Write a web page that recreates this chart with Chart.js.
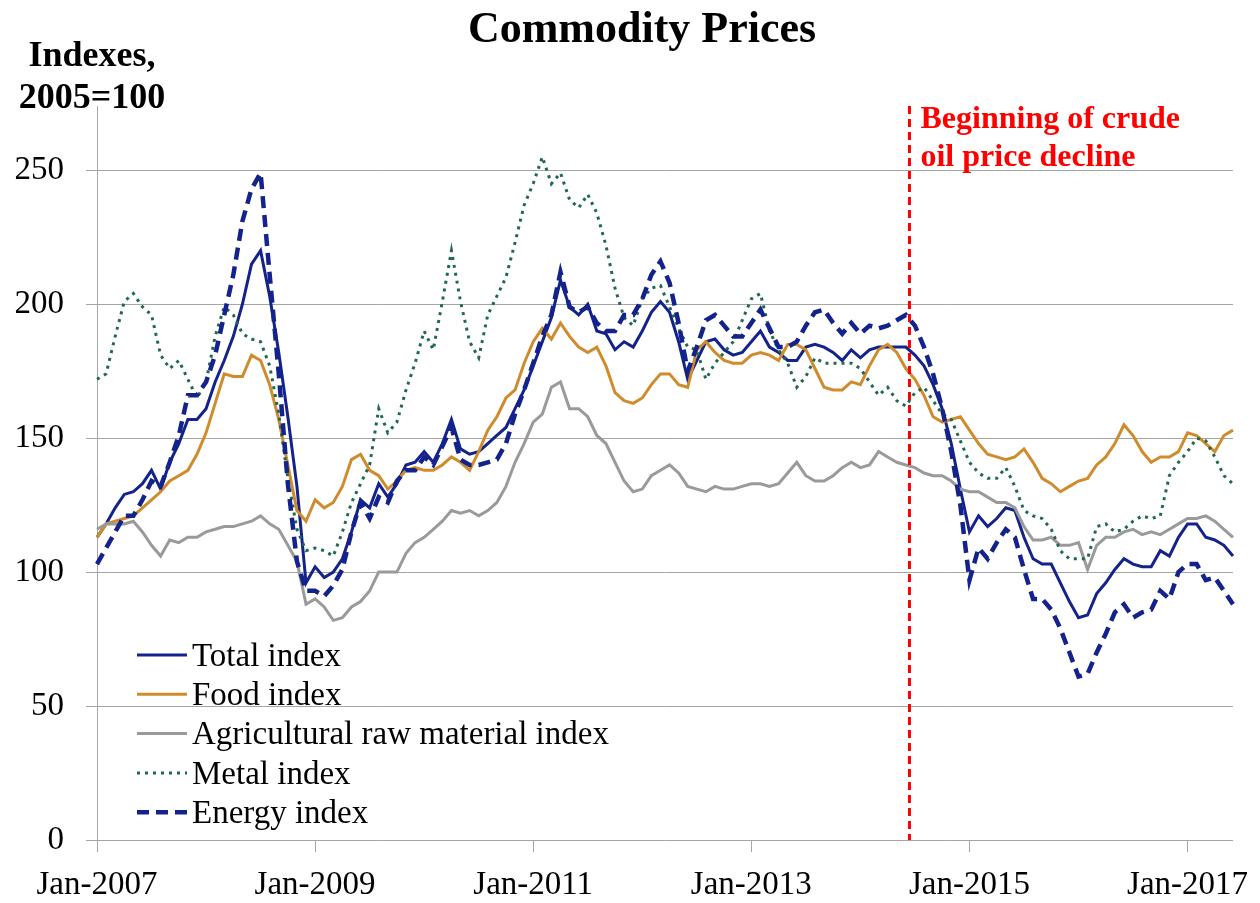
<!DOCTYPE html>
<html>
<head>
<meta charset="utf-8">
<title>Commodity Prices</title>
<script src="https://cdn.jsdelivr.net/npm/chart.js@4.4.1/dist/chart.umd.min.js"></script>
<style>
  html, body { margin: 0; padding: 0; background: #fff; }
  canvas { display: block; }
</style>
</head>
<body>
<canvas id="priceChart" width="1260" height="903"></canvas>
<script>
// Monthly index values, Jan-2007 .. Jun-2017 (2005 = 100)
const totalIndex = [113, 118, 124, 129, 130, 133, 138, 131, 141, 148, 157, 157, 161, 171, 179, 188, 200, 215, 220, 203,
  182, 158, 132, 96, 102, 98, 100, 105, 115, 127, 124, 133, 128, 133, 140, 141, 145, 141, 148, 157,
  146, 144, 145, 148, 151, 154, 161, 168, 177, 186, 195, 209, 199, 196, 200, 190, 189, 183, 186, 184,
  190, 197, 201, 197, 186, 172, 179, 186, 187, 183, 181, 182, 186, 190, 184, 182, 179, 179, 184, 185,
  184, 182, 179, 183, 180, 183, 184, 184, 184, 184, 181, 177, 170, 161, 148, 131, 115, 121, 117, 120,
  124, 123, 113, 105, 103, 103, 96, 89, 83, 84, 92, 96, 101, 105, 103, 102, 102, 108, 106, 113,
  118, 118, 113, 112, 110, 106];
const foodIndex = [113, 118, 119, 120, 121, 124, 127, 130, 134, 136, 138, 144, 152, 163, 174, 173, 173, 181, 179, 170,
  157, 140, 123, 119, 127, 124, 126, 132, 142, 144, 138, 136, 131, 134, 138, 139, 138, 138, 140, 143,
  141, 138, 145, 153, 158, 165, 168, 178, 186, 191, 187, 193, 188, 184, 182, 184, 177, 167, 164, 163,
  165, 170, 174, 174, 170, 169, 183, 186, 182, 179, 178, 178, 181, 182, 181, 179, 185, 185, 183, 176,
  169, 168, 168, 171, 170, 177, 183, 185, 182, 176, 172, 166, 158, 156, 157, 158, 153, 148, 144, 143,
  142, 143, 146, 141, 135, 133, 130, 132, 134, 135, 140, 143, 148, 155, 151, 145, 141, 143, 143, 145,
  152, 151, 148, 145, 151, 153];
const agriIndex = [116, 118, 118, 118, 119, 115, 110, 106, 112, 111, 113, 113, 115, 116, 117, 117, 118, 119, 121, 118,
  116, 110, 104, 88, 90, 87, 82, 83, 87, 89, 93, 100, 100, 100, 107, 111, 113, 116, 119, 123,
  122, 123, 121, 123, 126, 132, 141, 148, 156, 159, 169, 171, 161, 161, 158, 151, 148, 141, 134, 130,
  131, 136, 138, 140, 137, 132, 131, 130, 132, 131, 131, 132, 133, 133, 132, 133, 137, 141, 136, 134,
  134, 136, 139, 141, 139, 140, 145, 143, 141, 140, 139, 137, 136, 136, 134, 131, 130, 130, 128, 126,
  126, 124, 117, 112, 112, 113, 110, 110, 111, 101, 110, 113, 113, 115, 116, 114, 115, 114, 116, 118,
  120, 120, 121, 119, 116, 113];
const metalIndex = [172, 174, 188, 201, 204, 199, 196, 181, 176, 179, 172, 165, 171, 188, 199, 196, 189, 187, 186, 177,
  159, 135, 116, 108, 109, 108, 106, 115, 126, 133, 140, 161, 152, 156, 168, 178, 190, 183, 201, 220,
  201, 186, 180, 196, 203, 210, 223, 237, 245, 255, 245, 249, 239, 236, 241, 234, 222, 206, 195, 192,
  202, 206, 207, 199, 191, 184, 183, 172, 178, 182, 186, 194, 202, 204, 190, 183, 178, 169, 173, 180,
  178, 178, 178, 178, 176, 171, 166, 169, 164, 162, 167, 169, 164, 159, 157, 149, 141, 137, 135, 135,
  139, 132, 123, 121, 120, 116, 108, 105, 105, 105, 117, 118, 115, 116, 119, 121, 120, 121, 136, 141,
  145, 150, 149, 143, 136, 133];
const energyIndex = [103, 109, 115, 121, 121, 127, 134, 132, 141, 151, 166, 166, 171, 181, 196, 211, 231, 243, 249, 211,
  174, 133, 104, 93, 93, 91, 95, 101, 115, 126, 120, 128, 126, 134, 138, 138, 143, 140, 147, 154,
  142, 140, 140, 141, 142, 148, 159, 168, 178, 188, 196, 212, 199, 197, 199, 193, 190, 190, 196, 196,
  202, 211, 216, 208, 193, 175, 184, 194, 196, 192, 188, 188, 193, 198, 191, 184, 184, 186, 192, 197,
  198, 193, 189, 193, 189, 192, 191, 192, 194, 196, 192, 184, 174, 161, 145, 125, 97, 109, 105, 111,
  116, 113, 101, 90, 90, 86, 79, 70, 61, 62, 70, 77, 85, 88, 83, 85, 86, 93, 90, 100,
  103, 103, 97, 98, 93, 88];

const seriesNames = ['Total index', 'Food index', 'Agricultural raw material index', 'Metal index', 'Energy index'];
const xTickLabels = ['Jan-2007', 'Jan-2009', 'Jan-2011', 'Jan-2013', 'Jan-2015', 'Jan-2017'];
const yTicks = [0, 50, 100, 150, 200, 250];
const declineStart = 89.4; // month position of the red marker (mid Jun-2014)
const declineLabel = ['Beginning of crude', 'oil price decline'];

// Month categories Jan-2007 .. Jun-2017
const monthNames = ['Jan', 'Feb', 'Mar', 'Apr', 'May', 'Jun', 'Jul', 'Aug', 'Sep', 'Oct', 'Nov', 'Dec'];
const months = [];
for (let i = 0; i < totalIndex.length; i++) {
    months.push(monthNames[i % 12] + '-' + (2007 + Math.floor(i / 12)));
}

const serif = "'Liberation Serif', 'Times New Roman', serif";
const gridGray = '#a6a6a6';

// Draws the title, axis title, red marker and the in-plot legend
const overlayPlugin = {
    id: 'overlay',
    afterDatasetsDraw(chart) {
        const { ctx, chartArea, scales } = chart;
        const x = scales.x.getPixelForValue(declineStart);
        ctx.save();
        ctx.strokeStyle = '#ff0000';
        ctx.lineWidth = 3;
        ctx.setLineDash([8, 5]);
        ctx.beginPath();
        ctx.moveTo(x, chartArea.top);
        ctx.lineTo(x, chartArea.bottom);
        ctx.stroke();
        ctx.restore();
    },
    afterDraw(chart) {
        const { ctx, scales } = chart;
        ctx.save();
        ctx.fillStyle = '#000';
        ctx.textBaseline = 'alphabetic';

        // chart title
        ctx.font = `bold 44px ${serif}`;
        ctx.textAlign = 'center';
        ctx.fillText('Commodity Prices', 642, 42);

        // y axis title
        ctx.font = `bold 36px ${serif}`;
        ctx.fillText('Indexes,', 92, 66);
        ctx.fillText('2005=100', 92, 108);

        // red annotation next to the marker
        const x = scales.x.getPixelForValue(declineStart);
        ctx.fillStyle = '#ff0000';
        ctx.textAlign = 'left';
        ctx.font = `bold 32px ${serif}`;
        ctx.fillText(declineLabel[0], x + 11, 128);
        ctx.fillText(declineLabel[1], x + 11, 166);

        // legend inside the plot
        ctx.font = `33px ${serif}`;
        ctx.textBaseline = 'middle';
        chart.data.datasets.forEach((ds, i) => {
            const y = 655 + i * 39.3;
            ctx.strokeStyle = ds.borderColor;
            ctx.lineWidth = ds.borderWidth;
            ctx.setLineDash(ds.borderDash || []);
            ctx.beginPath();
            ctx.moveTo(137, y);
            ctx.lineTo(187, y);
            ctx.stroke();
            ctx.fillStyle = '#000';
            ctx.fillText(ds.label, 192, y + 2);
        });
        ctx.restore();
    }
};

const ctx = document.getElementById('priceChart').getContext('2d');
new Chart(ctx, {
    type: 'line',
    data: {
        labels: months,
        datasets: [
            { label: seriesNames[0], data: totalIndex, borderColor: '#14238c', borderWidth: 3, order: 4 },
            { label: seriesNames[1], data: foodIndex, borderColor: '#d08c2c', borderWidth: 3, order: 3 },
            { label: seriesNames[2], data: agriIndex, borderColor: '#9a9a9a', borderWidth: 3, order: 2 },
            { label: seriesNames[3], data: metalIndex, borderColor: '#1f6a4c', borderWidth: 3, borderDash: [3, 5], order: 1 },
            { label: seriesNames[4], data: energyIndex, borderColor: '#14238c', borderWidth: 4.5, borderDash: [12, 7], order: 0 }
        ]
    },
    options: {
        responsive: false,
        animation: false,
        layout: { padding: { top: 106, right: 27, left: 0, bottom: 0 } },
        elements: {
            point: { radius: 0 },
            line: { tension: 0, fill: false }
        },
        plugins: {
            legend: { display: false },
            title: { display: false },
            tooltip: { enabled: false }
        },
        scales: {
            x: {
                type: 'category',
                offset: false,
                border: { display: false },
                grid: {
                    drawOnChartArea: false,
                    tickLength: 12,
                    color: (c) => (c.tick && xTickLabels.includes(months[c.index]) ? gridGray : 'rgba(0,0,0,0)')
                },
                ticks: {
                    autoSkip: false,
                    maxRotation: 0,
                    padding: 14,
                    color: '#000',
                    font: { family: serif, size: 33 },
                    callback: (value, index) => (xTickLabels.includes(months[index]) ? months[index] : '')
                },
                afterFit: (scale) => { scale.height = 63; }
            },
            y: {
                min: 0,
                max: 274,
                border: { color: gridGray },
                grid: { color: gridGray, tickLength: 11 },
                ticks: {
                    padding: 22,
                    color: '#000',
                    font: { family: serif, size: 33 }
                },
                afterBuildTicks: (scale) => { scale.ticks = yTicks.map(v => ({ value: v })); },
                afterFit: (scale) => { scale.width = 97; }
            }
        }
    },
    plugins: [overlayPlugin]
});
</script>
</body>
</html>
